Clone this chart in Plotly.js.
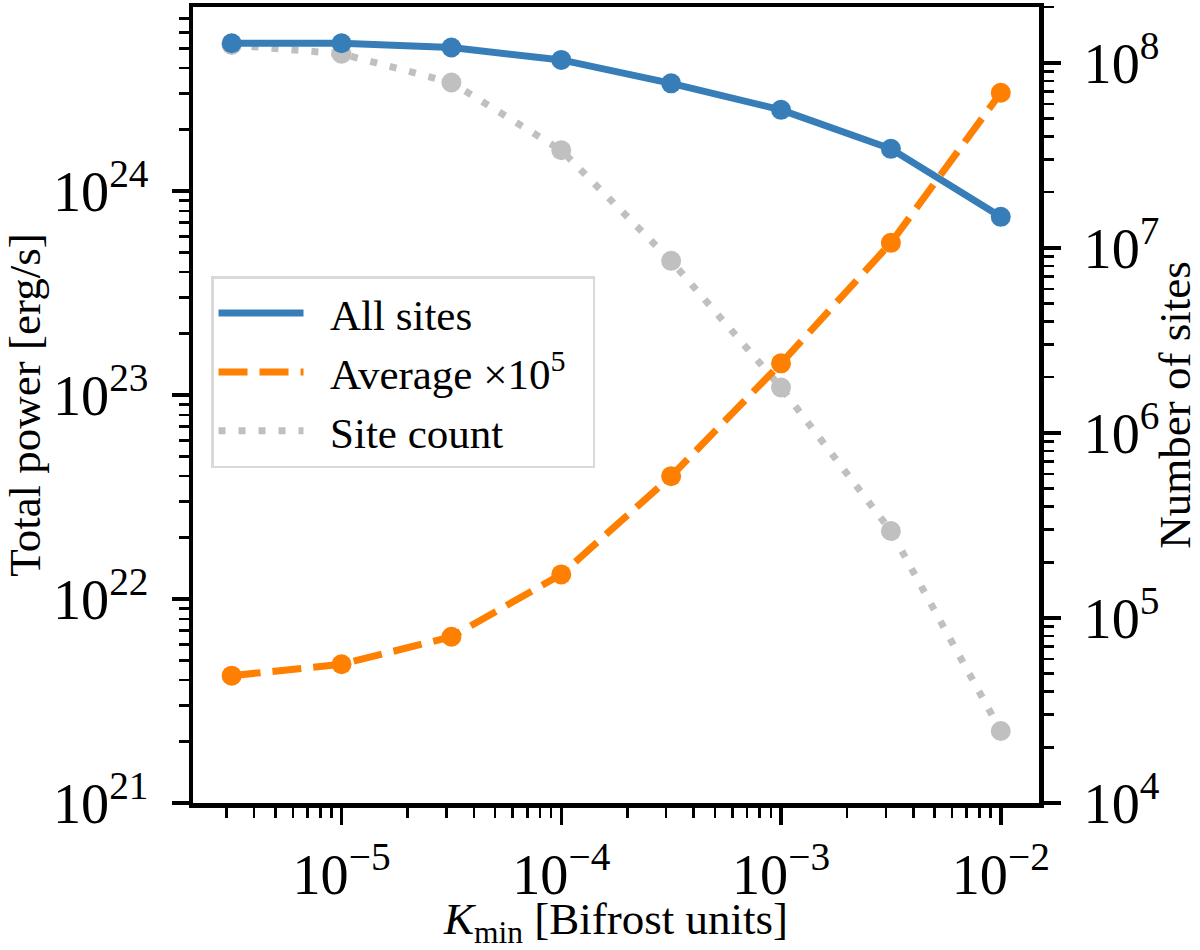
<!DOCTYPE html>
<html>
<head>
<meta charset="utf-8">
<script src="https://cdn.plot.ly/plotly-3.0.1.min.js"></script>
<style>
  html, body { margin: 0; padding: 0; background: #fff; }
  #chart { width: 1200px; height: 950px; }
</style>
</head>
<body>
<div id="chart"></div>
<script>
// K_min thresholds (half-decade steps)
const kMin = [3.162e-6, 1e-5, 3.162e-5, 1e-4, 3.162e-4, 1e-3, 3.162e-3, 1e-2];
// total power of all sites [erg/s]
const totalPower = [5.30e24, 5.30e24, 5.05e24, 4.39e24, 3.37e24, 2.50e24, 1.61e24, 7.47e23];
// average power per site, already multiplied by 1e5
const averagePower = [4.21e21, 4.79e21, 6.53e21, 1.32e22, 4.00e22, 1.43e23, 5.57e23, 3.03e24];
// number of sites (right axis)
const siteCount = [1.25e8, 1.12e8, 7.83e7, 3.37e7, 8.51e6, 1.76e6, 2.95e5, 2.45e4];

const serif = '"Liberation Serif", "Times New Roman", serif';
const fontSize = 45;
const pad = '\u00a0\u00a0'; // gap between legend line and label

// line part goes in the legend, markers are a separate trace so the
// legend only shows the line style (like matplotlib does here)
function series(name, y, axis, color, dash, rank) {
    const line = {
        x: kMin, y: y, yaxis: axis, name: name, mode: 'lines',
        line: {color: color, width: 7, dash: dash},
        legendrank: rank, hoverinfo: 'skip'
    };
    const dots = {
        x: kMin, y: y, yaxis: axis, mode: 'markers',
        marker: {color: color, size: 20, line: {width: 0}},
        showlegend: false, hoverinfo: 'skip'
    };
    return [line, dots];
}

// site count sits on the base axis so it is drawn underneath the power curves
const data = [].concat(
    series(pad + 'Site count', siteCount, 'y', '#c0c0c0', '7px,13px', 3),
    series(pad + 'All sites', totalPower, 'y2', '#377eb8', 'solid', 1),
    series(pad + 'Average ×10<sup>5</sup>' + pad, averagePower, 'y2', '#ff7f00', '29px,12px', 2)
);

const axisCommon = {
    type: 'log',
    dtick: 1,
    exponentformat: 'power',
    showexponent: 'all',
    showgrid: false,
    zeroline: false,
    showline: true,
    linecolor: '#000',
    linewidth: 4.5,
    ticks: 'outside',
    ticklen: 17,
    tickwidth: 3.5,
    tickcolor: '#000',
    tickfont: {family: serif, size: fontSize, color: '#000'},
    minor: {ticks: 'outside', ticklen: 10, tickwidth: 2.5, tickcolor: '#000', dtick: 'D1', showgrid: false},
    automargin: false
};

const layout = {
    width: 1200,
    height: 950,
    margin: {l: 193, r: 161, t: 7, b: 147},
    paper_bgcolor: '#fff',
    plot_bgcolor: '#fff',
    font: {family: serif, size: fontSize, color: '#000'},
    hovermode: false,
    xaxis: Object.assign({}, axisCommon, {
        range: [-5.676, -1.826],
        mirror: true,
        ticklabelstandoff: 4,
        title: {text: '<i>K</i><sub>min</sub> [Bifrost units]', font: {family: serif, size: fontSize}, standoff: 19}
    }),
    yaxis: Object.assign({}, axisCommon, {
        range: [4, 8.302],
        side: 'right',
        ticklabelstandoff: 14,
        title: {text: 'Number of sites', font: {family: serif, size: fontSize}, standoff: 12}
    }),
    yaxis2: Object.assign({}, axisCommon, {
        range: [21, 24.902],
        side: 'left',
        overlaying: 'y',
        ticklabelstandoff: 14,
        title: {text: 'Total power [erg/s]', font: {family: serif, size: fontSize}, standoff: 18}
    }),
    legend: {
        x: 0.0213, y: 0.662, xanchor: 'left', yanchor: 'top',
        bgcolor: 'rgba(255,255,255,0.8)',
        bordercolor: '#d9d9d9',
        borderwidth: 2.5,
        itemwidth: 85,
        tracegroupgap: 0,
        font: {family: serif, size: 43, color: '#000'}
    },
    showlegend: true
};

Plotly.newPlot('chart', data, layout, {displayModeBar: false, staticPlot: true});
</script>
</body>
</html>
